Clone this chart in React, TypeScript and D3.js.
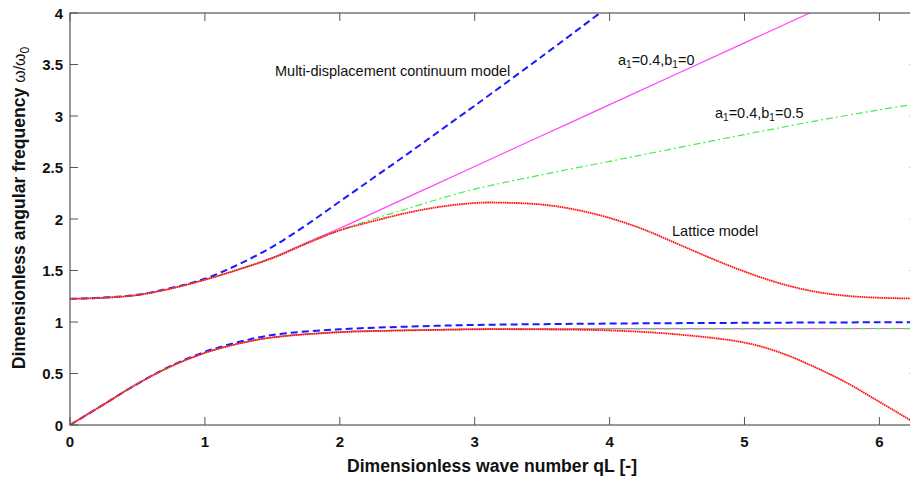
import React from "react";
import * as d3 from "d3";

// ---- data ----
const qLatticeOpt = [0, 0.25, 0.5, 0.75, 1, 1.25, 1.5, 1.75, 2, 2.25, 2.5, 2.75, 3, 3.14, 3.5, 3.75, 4, 4.25, 4.5, 4.75, 5, 5.25, 5.5, 5.75, 6, 6.283];
const wLatticeOpt = [1.225, 1.235, 1.262, 1.325, 1.41, 1.51, 1.62, 1.76, 1.89, 1.98, 2.06, 2.12, 2.155, 2.16, 2.14, 2.09, 2.01, 1.9, 1.76, 1.62, 1.49, 1.38, 1.3, 1.255, 1.235, 1.228];
const qLatticeAc = [0, 0.25, 0.5, 0.75, 1, 1.25, 1.5, 2, 2.5, 3, 3.14, 3.5, 4, 4.5, 5, 5.25, 5.5, 5.75, 6, 6.283];
const wLatticeAc = [0, 0.2, 0.4, 0.57, 0.7, 0.79, 0.85, 0.9, 0.918, 0.929, 0.93, 0.928, 0.918, 0.88, 0.8, 0.71, 0.575, 0.415, 0.225, 0.005];

const qContOpt = [0, 0.25, 0.5, 0.75, 1, 1.25, 1.5, 1.75, 2, 2.25, 2.5, 2.75, 3, 3.5, 4];
const wContOpt = [1.225, 1.237, 1.265, 1.33, 1.42, 1.56, 1.73, 1.94, 2.17, 2.4, 2.63, 2.865, 3.1, 3.58, 4.07];
const qContAc = [0, 0.25, 0.5, 0.75, 1, 1.25, 1.5, 2, 2.5, 3, 3.5, 4, 4.5, 5, 5.5, 6, 6.283];
const wContAc = [0, 0.2, 0.4, 0.575, 0.71, 0.805, 0.874, 0.929, 0.955, 0.971, 0.979, 0.985, 0.989, 0.992, 0.995, 0.997, 0.998];

const qA1Opt = [0, 0.25, 0.5, 0.75, 1, 1.25, 1.5, 1.75, 2, 2.5, 3, 3.5, 4, 4.5, 5, 5.5, 6];
const wA1Opt = [1.225, 1.235, 1.262, 1.325, 1.41, 1.51, 1.625, 1.77, 1.91, 2.21, 2.51, 2.81, 3.11, 3.41, 3.71, 4.01, 4.31];
const qA1Ac = [0, 0.25, 0.5, 0.75, 1, 1.25, 1.5, 2, 2.5, 3, 3.5, 4, 5, 6, 6.283];
const wA1Ac = [0, 0.2, 0.4, 0.57, 0.7, 0.79, 0.85, 0.905, 0.922, 0.93, 0.933, 0.935, 0.936, 0.937, 0.937];

const qA1B1Opt = [0, 0.25, 0.5, 0.75, 1, 1.25, 1.5, 1.75, 2, 2.25, 2.5, 2.75, 3, 3.5, 4, 4.5, 5, 5.5, 6, 6.283];
const wA1B1Opt = [1.225, 1.235, 1.262, 1.325, 1.41, 1.51, 1.62, 1.76, 1.89, 2.0, 2.1, 2.2, 2.29, 2.43, 2.56, 2.69, 2.82, 2.945, 3.06, 3.12];
const qA1B1Ac = [0, 0.25, 0.5, 0.75, 1, 1.25, 1.5, 2, 2.5, 3, 3.5, 4, 5, 6, 6.283];
const wA1B1Ac = [0, 0.2, 0.4, 0.57, 0.7, 0.79, 0.85, 0.904, 0.92, 0.928, 0.931, 0.933, 0.934, 0.935, 0.935];

const xTicks = [0, 1, 2, 3, 4, 5, 6];
const yTicks = [0, 0.5, 1, 1.5, 2, 2.5, 3, 3.5, 4];

// ---- layout ----
const W = 910;
const H = 482;
const left = 70;
const right = 917.6;
const top = 13;
const bottom = 425;

const FONT = "'Liberation Sans', Arial, Helvetica, sans-serif";

export default function App() {
  const x = d3.scaleLinear().domain([0, 2 * Math.PI]).range([left, right]);
  const y = d3.scaleLinear().domain([0, 4]).range([bottom, top]);

  const mk = (qs: number[], ws: number[]) => {
    const pts: [number, number][] = qs.map((q, i) => [q, ws[i]]);
    return (
      d3
        .line<[number, number]>()
        .x((d) => x(d[0]))
        .y((d) => y(d[1]))
        .curve(d3.curveCatmullRom.alpha(0.5))(pts) || ""
    );
  };

  const axisColor = "#555";
  const tickLen = 8;
  const annSize = 14.5;
  const subSize = 10;

  return (
    <svg
      width={W}
      height={H}
      style={{ position: "absolute", left: 0, top: 0, background: "#fff" }}
      fontFamily={FONT}
    >
      <defs>
        <clipPath id="plotClip">
          <rect x={left} y={top} width={right - left} height={bottom - top} />
        </clipPath>
      </defs>
      <rect x={0} y={0} width={W} height={H} fill="#fff" />

      {/* curves */}
      <g clipPath="url(#plotClip)" fill="none">
        <path d={mk(qContOpt, wContOpt)} stroke="#1a1aff" strokeWidth={2} strokeDasharray="7,4" />
        <path d={mk(qContAc, wContAc)} stroke="#1a1aff" strokeWidth={2} strokeDasharray="7,4" />
        <path d={mk(qA1Opt, wA1Opt)} stroke="#ff44ff" strokeWidth={1.2} />
        <path d={mk(qA1Ac, wA1Ac)} stroke="#ff44ff" strokeWidth={1.2} />
        <path d={mk(qA1B1Opt, wA1B1Opt)} stroke="#44ee44" strokeWidth={1.2} strokeDasharray="7,3,2,3" />
        <path d={mk(qA1B1Ac, wA1B1Ac)} stroke="#44ee44" strokeWidth={1.2} strokeDasharray="7,3,2,3" />
        <path d={mk(qLatticeOpt, wLatticeOpt)} stroke="#ff1010" strokeWidth={1.8} strokeDasharray="1.6,0.6" />
        <path d={mk(qLatticeAc, wLatticeAc)} stroke="#ff1010" strokeWidth={1.8} strokeDasharray="1.6,0.6" />
      </g>

      {/* frame */}
      <rect x={left} y={top} width={right - left} height={bottom - top} fill="none" stroke={axisColor} strokeWidth={1.2} />

      {/* x ticks */}
      {xTicks.map((t) => (
        <g key={"x" + t}>
          <line x1={x(t)} x2={x(t)} y1={bottom} y2={bottom - tickLen} stroke={axisColor} strokeWidth={1} />
          <line x1={x(t)} x2={x(t)} y1={top} y2={top + tickLen} stroke={axisColor} strokeWidth={1} />
          <text x={x(t)} y={447} textAnchor="middle" fontSize={15} fontWeight="bold" fill="#111">
            {t}
          </text>
        </g>
      ))}

      {/* y ticks */}
      {yTicks.map((t) => (
        <g key={"y" + t}>
          <line x1={left} x2={left + tickLen} y1={y(t)} y2={y(t)} stroke={axisColor} strokeWidth={1} />
          <line x1={right} x2={right - tickLen} y1={y(t)} y2={y(t)} stroke={axisColor} strokeWidth={1} />
          <text x={63} y={y(t) + 5.5} textAnchor="end" fontSize={15} fontWeight="bold" fill="#111">
            {t}
          </text>
        </g>
      ))}

      {/* axis labels */}
      <text x={492} y={472} textAnchor="middle" fontSize={17.6} fontWeight="bold" fill="#111">
        Dimensionless wave number qL [-]
      </text>
      <text
        transform={`translate(25,${208}) rotate(-90)`}
        textAnchor="middle"
        fontSize={17.6}
        fontWeight="bold"
        fill="#111"
      >
        Dimensionless angular frequency{" "}
        <tspan fontWeight="normal" fontSize={16}>ω/ω</tspan>
        <tspan fontWeight="normal" fontSize={12} dy={4}>0</tspan>
      </text>

      {/* annotations */}
      <text x={275} y={76} fontSize={annSize} fill="#111">
        Multi-displacement continuum model
      </text>
      <text x={618} y={65} fontSize={annSize} fill="#111">
        a<tspan fontSize={subSize} dy={3}>1</tspan>
        <tspan dy={-3}>=0.4,b</tspan>
        <tspan fontSize={subSize} dy={3}>1</tspan>
        <tspan dy={-3}>=0</tspan>
      </text>
      <text x={715} y={118} fontSize={annSize} fill="#111">
        a<tspan fontSize={subSize} dy={3}>1</tspan>
        <tspan dy={-3}>=0.4,b</tspan>
        <tspan fontSize={subSize} dy={3}>1</tspan>
        <tspan dy={-3}>=0.5</tspan>
      </text>
      <text x={672} y={236} fontSize={annSize} fill="#111">
        Lattice model
      </text>
    </svg>
  );
}
